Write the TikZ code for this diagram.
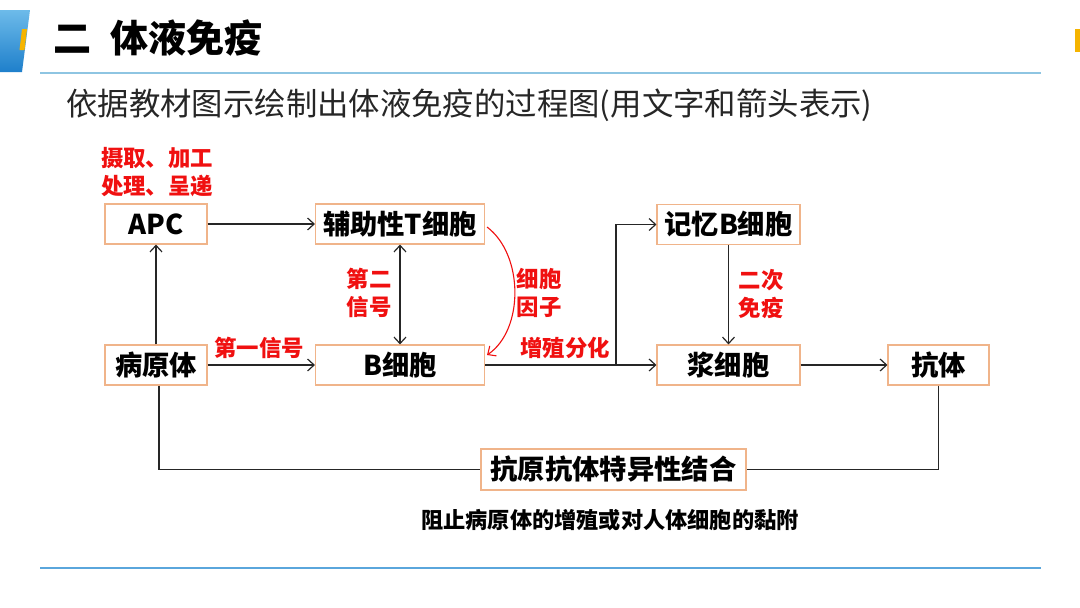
\documentclass[tikz,border=0pt]{standalone}
\usepackage{fontspec}
\setmainfont{Noto Sans CJK SC}
\usetikzlibrary{arrows.meta}
\definecolor{boxc}{HTML}{F0B48A}
\definecolor{linec}{HTML}{262626}
\definecolor{redc}{HTML}{F01010}
\definecolor{rulec}{HTML}{8EC5E2}
\definecolor{rulec2}{HTML}{5AA6DC}
\definecolor{blueA}{HTML}{6DBBEA}
\definecolor{blueB}{HTML}{1E7FCB}
\definecolor{yel}{HTML}{F5B400}
\tikzset{
  box/.style={draw=boxc, line width=1.1pt, minimum height=40pt, inner sep=0pt,
    font=\fontsize{27.3}{27.3}\selectfont\bfseries, text=black},
  arr/.style={draw=linec, line width=1.2pt, -{Straight Barb[length=6.5pt,width=12pt]}},
  darr/.style={draw=linec, line width=1.2pt, {Straight Barb[length=6.5pt,width=12pt]}-{Straight Barb[length=6.5pt,width=12pt]}},
  plain/.style={draw=linec, line width=1.2pt},
  redarr/.style={draw=redc, line width=1.1pt, -{Straight Barb[length=6.5pt,width=12pt]}},
  lab/.style={text=redc, font=\fontsize{22.4}{28}\selectfont\bfseries, align=center, inner sep=0pt},
}
\begin{document}
\begin{tikzpicture}[x=1pt,y=-1pt]
\useasboundingbox[fill=white] (0,0) rectangle (1080,608);
% decorations
\shade[top color=blueA, bottom color=blueB] (0,10) -- (30,10) -- (22,72) -- (0,72) -- cycle;
\fill[yel] (22,29) -- (27,29) -- (24.5,50) -- (19.5,50) -- cycle;
\fill[yel] (1075,29) rectangle (1080,52);
\draw[rulec, line width=1.6pt] (40,73) -- (1041,73);
\draw[rulec2, line width=1.4pt] (40,568) -- (1041,568);
% title
\node[anchor=west, inner sep=0pt, font=\fontsize{38}{38}\selectfont\bfseries] (title) at (53,38) {二\hspace{19pt}体液免疫};
\node[anchor=west, inner sep=0pt, font=\fontsize{31.4}{31.4}\selectfont, text=black!85] (sub) at (66,105) {依据教材图示绘制出体液免疫的过程图(用文字和箭头表示)};
% boxes
\node[box, minimum width=102pt] (apc) at (156,224) {APC};
\node[box, minimum width=169pt] (th) at (400,224) {辅助性T细胞};
\node[box, minimum width=102pt] (pat) at (156,365) {病原体};
\node[box, minimum width=169pt] (bc) at (400,365) {B细胞};
\node[box, minimum width=143pt] (mb) at (728.5,224.5) {记忆B细胞};
\node[box, minimum width=143pt] (pc) at (728.5,365) {浆细胞};
\node[box, minimum width=101pt] (ab) at (938.5,365) {抗体};
\node[box, minimum width=265pt, minimum height=41pt] (bind) at (613.5,469.5) {抗原抗体特异性结合};
% labels
\node[lab] (l1) at (157,172) {摄取、加工\\处理、呈递};
\node[lab] (l2) at (369,293) {第二\\信号};
\node[lab] (l3) at (259,348) {第一信号};
\node[lab] (l4) at (539,293) {细胞\\因子};
\node[lab] (l5) at (565,348) {增殖分化};
\node[lab] (l6) at (761,294) {二次\\免疫};
\node[inner sep=0pt, font=\fontsize{22.2}{22}\selectfont\bfseries] (note) at (610,520) {阻止病原体的增殖或对人体细胞的黏附};
% connectors
\draw[arr] (pat) -- (apc);
\draw[arr] (apc) -- (th);
\draw[arr] (pat) -- (bc);
\draw[darr] (th) -- (bc);
\draw[redarr] ([shift={(2,3)}]th.east) .. controls (524,255) and (524,330) .. ([shift={(2,-10)}]bc.east);
\coordinate (br) at (616,365);
\draw[arr] (bc) -- (pc);
\draw[arr] (br) |- (mb.west);
\draw[arr] (mb) -- (pc);
\draw[arr] (pc) -- (ab);
\draw[plain] ([xshift=3pt]pat.south) |- (bind.west);
\draw[plain] (ab.south) |- (bind.east);
\end{tikzpicture}
\end{document}
